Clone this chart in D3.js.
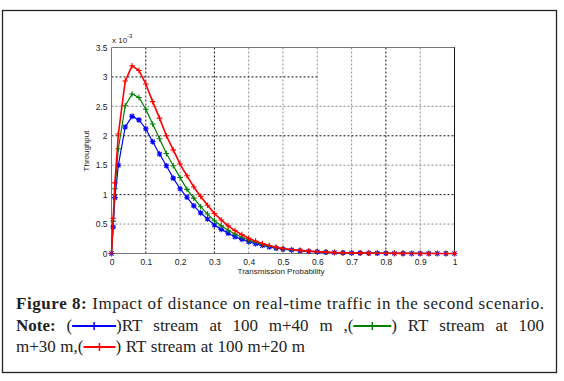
<!DOCTYPE html>
<html><head><meta charset="utf-8">
<script src="https://cdn.jsdelivr.net/npm/d3@7"></script>
<style>html,body{margin:0;padding:0;background:#fff;}svg{display:block;}</style>
</head><body>
<svg id="c" width="564" height="381"></svg>
<script>
// ---- data (throughput in units of 1e-3) ----
const xVals = [0,0.005,0.01,0.02,0.04,0.06,0.08,0.10,0.12,0.14,0.16,0.18,0.20,0.22,0.24,0.26,0.28,0.30,0.32,0.34,0.36,0.38,0.40,0.42,0.44,0.46,0.48,0.50,
  0.525,0.55,0.575,0.60,0.625,0.65,0.675,0.70,0.725,0.75,0.775,0.80,0.825,0.85,0.875,0.90,0.925,0.95,0.975,1.0];
const blue40 = [0,0.45,0.95,1.50,2.15,2.33,2.27,2.12,1.90,1.69,1.49,1.28,1.10,0.955,0.81,0.69,0.585,0.485,0.41,0.345,0.285,0.24,0.20,0.165,0.135,0.11,0.09,0.072,
  0.058,0.046,0.036,0.028,0.021,0.016,0.012,0.009,0.007,0.005,0.004,0.003,0.002,0.0015,0.001,0.0008,0.0006,0.0004,0.0003,0.0002];
const green30 = [0,0.55,1.1,1.78,2.51,2.71,2.65,2.45,2.20,1.95,1.70,1.49,1.29,1.09,0.94,0.795,0.67,0.557,0.47,0.395,0.33,0.275,0.23,0.19,0.155,0.125,0.10,0.08,
  0.063,0.05,0.039,0.03,0.023,0.017,0.013,0.01,0.0075,0.0055,0.004,0.003,0.0022,0.0016,0.0012,0.0009,0.0006,0.0004,0.0003,0.0002];
const red20 = [0,0.6,1.2,2.03,2.93,3.19,3.11,2.88,2.58,2.30,2.00,1.76,1.52,1.32,1.13,0.97,0.82,0.68,0.57,0.47,0.39,0.32,0.26,0.21,0.17,0.135,0.105,0.085,
  0.067,0.053,0.041,0.032,0.024,0.018,0.014,0.01,0.008,0.006,0.0045,0.0033,0.0024,0.0017,0.0012,0.0009,0.0006,0.0004,0.0003,0.0002];
const xTicks = [0,0.1,0.2,0.3,0.4,0.5,0.6,0.7,0.8,0.9,1];
const xTickLabels = ["0","0.1","0.2","0.3","0.4","0.5","0.6","0.7","0.8","0.9","1"];
const yTicks = [0,0.5,1,1.5,2,2.5,3,3.5];
const yTickLabels = ["0","0.5","1","1.5","2","2.5","3","3.5"];
const seriesNames = ["RT stream at 100 m+40 m","RT stream at 100 m+30 m","RT stream at 100 m+20 m"];

const svg = d3.select("#c");
// outer frame
svg.append("rect").attr("x",2.5).attr("y",10.5).attr("width",554).attr("height",362)
  .attr("fill","none").attr("stroke","#222").attr("stroke-width",1.3);

const L=111.5,R=454.5,T=47.5,B=253.5;
const x = d3.scaleLinear().domain([0,1]).range([L,R]);
const y = d3.scaleLinear().domain([0,3.5]).range([B,T]);

const g = svg.append("g");
// grid
const vBlack = new Set([0.1,0.3,0.8]);
xTicks.slice(1,-1).forEach(t=>{
  g.append("line").attr("x1",x(t)).attr("x2",x(t)).attr("y1",T).attr("y2",B)
   .attr("stroke",vBlack.has(t)?"#111":"#888").attr("stroke-width",1).attr("stroke-dasharray","2,2");
});
const hBlack = new Set([1,2,3]);
yTicks.slice(1,-1).forEach(t=>{
  g.append("line").attr("x1",L).attr("x2",t===3?x(0.6):R).attr("y1",y(t)).attr("y2",y(t))
   .attr("stroke",hBlack.has(t)?"#111":"#888").attr("stroke-width",1).attr("stroke-dasharray","2,2");
});
// axes frame
g.append("line").attr("x1",L).attr("x2",L).attr("y1",T).attr("y2",B).attr("stroke","#777");
g.append("line").attr("x1",L).attr("x2",R).attr("y1",B).attr("y2",B).attr("stroke","#777");
g.append("line").attr("x1",L).attr("x2",R).attr("y1",T).attr("y2",T).attr("stroke","#777");
g.append("line").attr("x1",R).attr("x2",R).attr("y1",T).attr("y2",B).attr("stroke","#111");
g.append("line").attr("x1",R).attr("x2",R).attr("y1",T).attr("y2",T+3).attr("stroke","#111");

// ticks + labels
const tickFont = "Liberation Sans, Arial, sans-serif";
const xa = d3.axisBottom(x).tickValues(xTicks).tickSize(0).tickFormat((d,i)=>xTickLabels[i]);
const xg = svg.append("g").attr("transform",`translate(0,${B})`).call(xa);
xg.select(".domain").remove();
xg.selectAll("text").attr("dy",null).attr("y",11.5).attr("font-family",tickFont).attr("font-size",8.5).attr("fill","#222");
const ya = d3.axisLeft(y).tickValues(yTicks).tickSize(0).tickFormat((d,i)=>yTickLabels[i]);
const yg = svg.append("g").attr("transform",`translate(${L},0)`).call(ya);
yg.select(".domain").remove();
yg.selectAll("text").attr("x",-4).attr("font-family",tickFont).attr("font-size",8.5).attr("fill","#222");

// exponent
const ex = svg.append("text").attr("x",112).attr("y",42.5).attr("font-family",tickFont).attr("font-size",8).attr("fill","#222");
ex.append("tspan").text("x 10");
ex.append("tspan").attr("dy",-5).attr("font-size",6).text("-3");

// axis titles
svg.append("text").attr("x",281).attr("y",274).attr("text-anchor","middle")
  .attr("font-family",tickFont).attr("font-size",8).attr("fill","#222").text("Transmission Probability");
svg.append("text").attr("transform","translate(89,151) rotate(-90)").attr("text-anchor","middle")
  .attr("font-family",tickFont).attr("font-size",8).attr("fill","#222").text("Throughput");

// series
const series = [
  {name:seriesNames[0], vals:blue40, color:"#0000ff", marker:"star", w:1.2},
  {name:seriesNames[1], vals:green30, color:"#008000", marker:"plus", w:1.2},
  {name:seriesNames[2], vals:red20, color:"#ff0000", marker:"plus", w:1.6}
];
const line = d3.line().x(d=>x(d[0])).y(d=>y(d[1]));
series.forEach(s=>{
  const pts = xVals.map((xv,i)=>[xv,s.vals[i]]);
  const sg = svg.append("g");
  sg.append("path").datum(pts).attr("d",line).attr("fill","none").attr("stroke",s.color).attr("stroke-width",s.w);
  pts.forEach(p=>{
    const cx=x(p[0]), cy=y(p[1]), r=2.8;
    let d=`M${cx-r},${cy}L${cx+r},${cy}M${cx},${cy-r}L${cx},${cy+r}`;
    if(s.marker==="star"){const q=r*0.75; d+=`M${cx-q},${cy-q}L${cx+q},${cy+q}M${cx-q},${cy+q}L${cx+q},${cy-q}`;}
    sg.append("path").attr("d",d).attr("stroke",s.color).attr("stroke-width",1.1).attr("fill","none");
  });
});

// caption
const serif = "Liberation Serif, Times New Roman, serif";
const fs = 17;
const cap = svg.append("g").attr("font-family",serif).attr("font-size",fs).attr("fill","#222");
const l1 = cap.append("text").attr("x",16).attr("y",309).attr("textLength",528).attr("lengthAdjust","spacing");
l1.append("tspan").attr("font-weight","bold").text("Figure 8:");
l1.append("tspan").text(" Impact of distance on real-time traffic in the second scenario.");

function icon(x0,w,yc,color){
  cap.append("line").attr("x1",x0).attr("x2",x0+w).attr("y1",yc).attr("y2",yc).attr("stroke",color).attr("stroke-width",2);
  const m=x0+w/2;
  cap.append("line").attr("x1",m).attr("x2",m).attr("y1",yc-4).attr("y2",yc+4).attr("stroke",color).attr("stroke-width",1.5);
}
// layout a line: items = groups of glued pieces separated by justifiable spaces
function layoutLine(groups, yb, x0, x1, justify){
  // each group: array of pieces {t, bold} or {icon, w, color}
  const measured = groups.map(gr=>gr.map(p=>{
    if(p.icon) return Object.assign({w:p.w},p);
    const tt = cap.append("text").attr("font-weight",p.bold?"bold":null).text(p.t);
    const w = tt.node().getComputedTextLength(); tt.remove();
    return Object.assign({w},p);
  }));
  const widths = measured.map(gr=>d3.sum(gr,p=>p.w));
  const total = d3.sum(widths);
  const gap = justify ? (x1-x0-total)/(groups.length-1) : 4.5;
  let cx = x0;
  measured.forEach((gr,gi)=>{
    gr.forEach(p=>{
      if(p.icon){ icon(cx,p.w,yb-5,p.color); }
      else { cap.append("text").attr("x",cx).attr("y",yb).attr("font-weight",p.bold?"bold":null).text(p.t); }
      cx += p.w;
    });
    cx += gap;
  });
}
const y2=331, y3=352;
layoutLine([
  [{t:"Note:",bold:true}],
  [{t:"("},{icon:true,w:44,color:"#0000ff"},{t:")RT"}],
  [{t:"stream"}],[{t:"at"}],[{t:"100"}],[{t:"m+40"}],[{t:"m"}],
  [{t:",("},{icon:true,w:38,color:"#008000"},{t:")"}],
  [{t:"RT"}],[{t:"stream"}],[{t:"at"}],[{t:"100"}]
], y2, 16, 544, true);
layoutLine([
  [{t:"m+30"}],
  [{t:"m,("},{icon:true,w:32,color:"#ff0000"},{t:")"}],
  [{t:"RT"}],[{t:"stream"}],[{t:"at"}],[{t:"100"}],[{t:"m+20"}],[{t:"m"}]
], y3, 16, 544, false);
</script>
</body></html>
